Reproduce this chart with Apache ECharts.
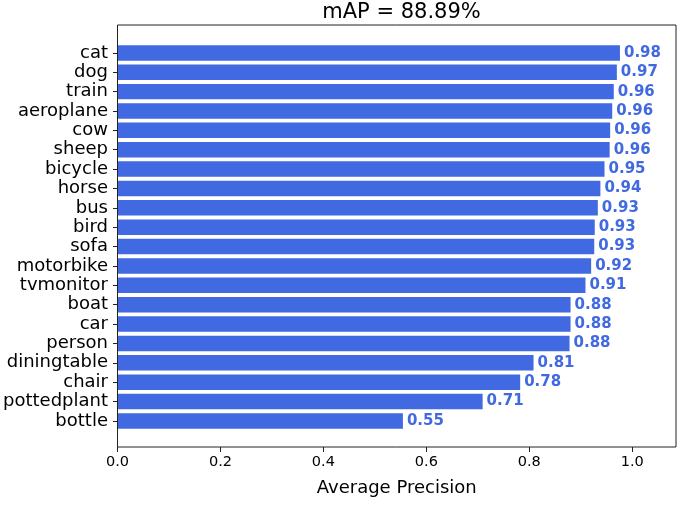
<!DOCTYPE html>
<html>
<head>
<meta charset="utf-8">
<script src="https://cdn.jsdelivr.net/npm/echarts@6/dist/echarts.min.js"></script>
<style>
html,body{margin:0;padding:0;background:#fff;}
#chart{width:685px;height:508px;}
</style>
</head>
<body>
<div id="chart"></div>
<script>
const categories = ['cat','dog','train','aeroplane','cow','sheep','bicycle','horse','bus','bird','sofa','motorbike','tvmonitor','boat','car','person','diningtable','chair','pottedplant','bottle'];
const apValues = [0.976,0.970,0.964,0.961,0.957,0.956,0.946,0.938,0.933,0.927,0.926,0.920,0.909,0.880,0.880,0.878,0.808,0.782,0.709,0.554];
const xTickValues = [0.0,0.2,0.4,0.6,0.8,1.0];
const titleText = 'mAP = 88.89%';
const xAxisTitle = 'Average Precision';
const xMin = 0, xMax = 1.085, xStep = 0.2;

const FONT = 'DejaVu Sans';
const BLUE = '#4169E1';
const chart = echarts.init(document.getElementById('chart'), null, {renderer:'canvas'});
chart.setOption({
  animation:false,
  backgroundColor:'#fff',
  textStyle:{fontFamily:FONT},
  title:{
    text:titleText, left:396.5, top:-3, textAlign:'center',
    textStyle:{fontFamily:FONT, fontSize:21, fontWeight:'normal', color:'#000'}
  },
  grid:[
    {left:117.5, right:9, top:25, bottom:61, show:true, borderColor:'#222', borderWidth:1, backgroundColor:'transparent'},
    {left:117.5, right:9, top:43.2, bottom:77.4}
  ],
  xAxis:[
    {gridIndex:0, type:'value', min:xMin, max:xMax, interval:xStep,
     axisLine:{show:false},
     axisTick:{show:true, length:5, customValues:xTickValues, lineStyle:{color:'#222'}},
     splitLine:{show:false},
     axisLabel:{margin:8, fontSize:14.5, color:'#000', fontFamily:FONT, customValues:xTickValues,
       formatter:function(v){ return v.toFixed(1); }},
     name:xAxisTitle, nameLocation:'middle', nameGap:32,
     nameTextStyle:{fontSize:18, color:'#000', fontFamily:FONT}
    },
    {gridIndex:1, type:'value', min:xMin, max:xMax, show:false}
  ],
  yAxis:[
    {gridIndex:0, type:'value', min:0, max:1, show:false},
    {gridIndex:1, type:'category', inverse:true, data:categories,
     axisLine:{show:false},
     axisTick:{show:true, alignWithLabel:true, interval:0, length:5, lineStyle:{color:'#222'}},
     axisLabel:{margin:10, interval:0, fontSize:18, color:'#000', fontFamily:FONT},
     splitLine:{show:false}
    }
  ],
  series:[{
    type:'bar', xAxisIndex:1, yAxisIndex:1, data:apValues, barWidth:'80%',
    itemStyle:{color:BLUE},
    label:{show:true, position:'right', distance:4, color:BLUE, fontWeight:'bold', fontSize:15, fontFamily:FONT,
      formatter:function(p){ return p.value.toFixed(2); }}
  }]
});
</script>
</body>
</html>
